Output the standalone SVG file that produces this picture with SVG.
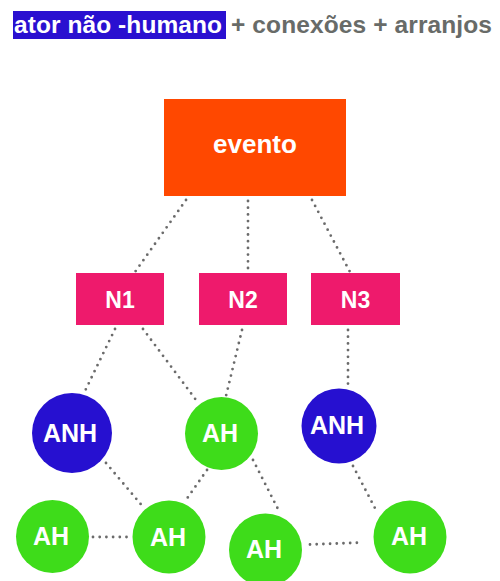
<svg xmlns="http://www.w3.org/2000/svg" width="500" height="581" viewBox="0 0 500 581">
  <style>
    text { font-family: "Liberation Sans", Arial, sans-serif; font-weight: bold; }
    .lbl { fill: #ffffff; text-anchor: middle; }
    .link { stroke: #6b6b6b; stroke-width: 2.8; stroke-linecap: round; stroke-dasharray: 0 6.7; fill: none; }
    .ev { fill: #ff4800; }
    .n { fill: #ee1a6c; }
    .ah { fill: #3edc1a; }
    .anh { fill: #2610d0; }
  </style>
  <rect width="500" height="581" fill="#ffffff"/>

  <!-- heading -->
  <g id="title">
    <rect x="13" y="11" width="213" height="28" fill="#2a10d0"/>
    <text x="14" y="32.5" font-size="24.5" fill="#ffffff" textLength="208" lengthAdjust="spacing">ator não -humano</text>
    <text x="231" y="32.5" font-size="24.5" fill="#686b68" textLength="261" lengthAdjust="spacing">+ conexões + arranjos</text>
  </g>

  <!-- connectors -->
  <g id="connectors">
    <line class="link" x1="186" y1="200" x2="135" y2="272"/>
    <line class="link" x1="248" y1="201" x2="248" y2="271"/>
    <line class="link" x1="312" y1="200" x2="350" y2="272"/>
    <line class="link" x1="115" y1="329" x2="85" y2="391"/>
    <line class="link" x1="143" y1="329" x2="199" y2="404"/>
    <line class="link" x1="242" y1="330" x2="226" y2="396"/>
    <line class="link" x1="348" y1="330" x2="348" y2="388"/>
    <line class="link" x1="106" y1="463" x2="144" y2="508"/>
    <line class="link" x1="207" y1="470" x2="186" y2="500"/>
    <line class="link" x1="253" y1="460" x2="280" y2="513"/>
    <line class="link" x1="353" y1="466" x2="377" y2="512"/>
    <line class="link" x1="93" y1="537" x2="129" y2="537"/>
    <line class="link" x1="310" y1="544.5" x2="363" y2="542.5"/>
  </g>

  <!-- event -->
  <g id="evento">
    <rect class="ev" x="164" y="99" width="182" height="97"/>
    <text class="lbl" x="255" y="153" font-size="26">evento</text>
  </g>

  <!-- N level -->
  <g id="n1">
    <rect class="n" x="76" y="273" width="88" height="52"/>
    <text class="lbl" x="120" y="308" font-size="23">N1</text>
  </g>
  <g id="n2">
    <rect class="n" x="199" y="273" width="88" height="52"/>
    <text class="lbl" x="243" y="308" font-size="23">N2</text>
  </g>
  <g id="n3">
    <rect class="n" x="311" y="273" width="89" height="52"/>
    <text class="lbl" x="355.5" y="308" font-size="23">N3</text>
  </g>

  <!-- actors -->
  <g id="anh1">
    <circle class="anh" cx="72" cy="433" r="40"/>
    <text class="lbl" x="70" y="442" font-size="25">ANH</text>
  </g>
  <g id="ah1">
    <circle class="ah" cx="221.5" cy="433.5" r="36.5"/>
    <text class="lbl" x="220" y="442" font-size="25">AH</text>
  </g>
  <g id="anh2">
    <circle class="anh" cx="339" cy="426" r="37.5"/>
    <text class="lbl" x="337" y="434" font-size="25">ANH</text>
  </g>
  <g id="ah2">
    <circle class="ah" cx="52.5" cy="536.5" r="36.5"/>
    <text class="lbl" x="51" y="545" font-size="25">AH</text>
  </g>
  <g id="ah3">
    <circle class="ah" cx="169" cy="537" r="36.5"/>
    <text class="lbl" x="168" y="546" font-size="25">AH</text>
  </g>
  <g id="ah4">
    <circle class="ah" cx="265.5" cy="550" r="36.5"/>
    <text class="lbl" x="264" y="558" font-size="25">AH</text>
  </g>
  <g id="ah5">
    <circle class="ah" cx="410" cy="537" r="36.5"/>
    <text class="lbl" x="409" y="545" font-size="25">AH</text>
  </g>
</svg>
